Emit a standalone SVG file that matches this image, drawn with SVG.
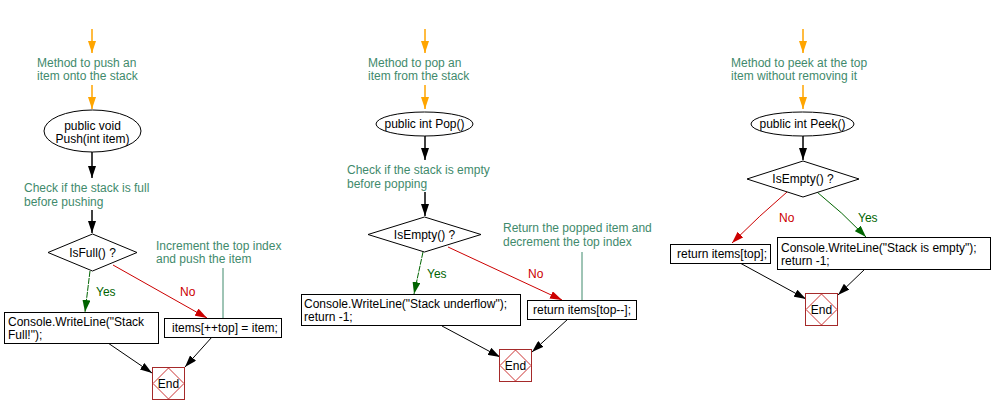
<svg xmlns="http://www.w3.org/2000/svg" width="992" height="414" viewBox="0 0 992 414">
<style>
text{font-family:"Liberation Sans",Arial,sans-serif;font-size:12px;fill:#000}
.note{fill:#3f8a6c}
.yes{fill:#006400}
.no{fill:#cc0000}
.shape{fill:#fff;stroke:#000;stroke-width:1}
.endb{fill:#fff;stroke:#a52a2a;stroke-width:1}
.endd{fill:none;stroke:#cc3333;stroke-width:1}
.c{fill:none;stroke:#000;stroke-width:1}
.ob{fill:none;stroke:#ffa500;stroke-width:1.5}
.bk{fill:none;stroke:#000;stroke-width:1.5}
.gy{fill:none;stroke:#006400;stroke-width:1;stroke-dasharray:6,1}
.rn{fill:none;stroke:#cc0000;stroke-width:1}
.ln{fill:none;stroke:#3f8a6c;stroke-width:1}
</style>
<defs>
<marker id="ao" viewBox="0 0 12 8" refX="12" refY="4" markerWidth="12" markerHeight="8" markerUnits="userSpaceOnUse" orient="auto"><path d="M0,0 L12,4 L0,8 z" fill="#ffa500"/></marker>
<marker id="ab" viewBox="0 0 12 8" refX="12" refY="4" markerWidth="12" markerHeight="8" markerUnits="userSpaceOnUse" orient="auto"><path d="M0,0 L12,4 L0,8 z" fill="#000"/></marker>
<marker id="ag" viewBox="0 0 12 8" refX="12" refY="4" markerWidth="12" markerHeight="8" markerUnits="userSpaceOnUse" orient="auto"><path d="M0,0 L12,4 L0,8 z" fill="#006400"/></marker>
<marker id="ar" viewBox="0 0 12 8" refX="12" refY="4" markerWidth="12" markerHeight="8" markerUnits="userSpaceOnUse" orient="auto"><path d="M0,0 L12,4 L0,8 z" fill="#cc0000"/></marker>
</defs>

<g id="connectors">
<!-- panel 1 -->
<line class="ob" x1="92" y1="29" x2="92" y2="53" marker-end="url(#ao)"/>
<line class="ob" x1="92" y1="85" x2="92" y2="109" marker-end="url(#ao)"/>
<line class="bk" x1="92" y1="152" x2="92" y2="178" marker-end="url(#ab)"/>
<line class="bk" x1="92" y1="210" x2="92" y2="233" marker-end="url(#ab)"/>
<line class="gy" x1="90" y1="271" x2="85" y2="312" marker-end="url(#ag)"/>
<line class="rn" x1="113" y1="265" x2="207" y2="318" marker-end="url(#ar)"/>
<line class="ln" x1="223" y1="268" x2="223" y2="318"/>
<line class="c" x1="108" y1="343" x2="152" y2="373" marker-end="url(#ab)"/>
<line class="c" x1="212" y1="337" x2="185" y2="367" marker-end="url(#ab)"/>
<!-- panel 2 -->
<line class="ob" x1="425" y1="29" x2="425" y2="53" marker-end="url(#ao)"/>
<line class="ob" x1="425" y1="85" x2="425" y2="109" marker-end="url(#ao)"/>
<line class="bk" x1="425" y1="136" x2="425" y2="160" marker-end="url(#ab)"/>
<line class="bk" x1="425" y1="192" x2="425" y2="216" marker-end="url(#ab)"/>
<line class="gy" x1="423" y1="252" x2="414" y2="294" marker-end="url(#ag)"/>
<line class="rn" x1="448" y1="247" x2="562" y2="300" marker-end="url(#ar)"/>
<line class="ln" x1="582" y1="252" x2="582" y2="300"/>
<line class="c" x1="442" y1="326" x2="500" y2="357" marker-end="url(#ab)"/>
<line class="c" x1="568" y1="319" x2="532" y2="352" marker-end="url(#ab)"/>
<!-- panel 3 -->
<line class="ob" x1="803" y1="29" x2="803" y2="53" marker-end="url(#ao)"/>
<line class="ob" x1="803" y1="85" x2="803" y2="109" marker-end="url(#ao)"/>
<line class="bk" x1="803" y1="136" x2="803" y2="160" marker-end="url(#ab)"/>
<path class="rn" d="M787,192 Q760,215 732,243" marker-end="url(#ar)"/>
<path class="gy" d="M817,192 Q842,212 866,237" marker-end="url(#ag)" style="stroke-dasharray:none"/>
<line class="c" x1="740" y1="263" x2="806" y2="299" marker-end="url(#ab)"/>
<line class="c" x1="865" y1="269" x2="838" y2="295" marker-end="url(#ab)"/>
</g>

<!-- Panel 1 nodes -->
<g id="note-push"><text class="note" x="37" y="67">Method to push an</text><text class="note" x="37" y="80">item onto the stack</text></g>
<g id="start-push"><ellipse class="shape" cx="92.5" cy="131" rx="48.5" ry="21"/><text x="92.5" y="130" text-anchor="middle">public void</text><text x="92.5" y="143" text-anchor="middle">Push(int item)</text></g>
<g id="note-full"><text class="note" x="24" y="192">Check if the stack is full</text><text class="note" x="24" y="206">before pushing</text></g>
<g id="dec-full"><polygon class="shape" points="92.5,234 137,252.5 92.5,271 48,252.5"/><text x="92.5" y="257" text-anchor="middle">IsFull() ?</text></g>
<g id="lbl-yes1"><text class="yes" x="96" y="296">Yes</text></g>
<g id="lbl-no1"><text class="no" x="180" y="296">No</text></g>
<g id="box-full"><rect class="shape" x="4.5" y="312.5" width="154" height="31"/><text x="8" y="326">Console.WriteLine("Stack</text><text x="8" y="339">Full!");</text></g>
<g id="note-inc"><text class="note" x="156" y="250">Increment the top index</text><text class="note" x="156" y="263">and push the item</text></g>
<g id="box-push"><rect class="shape" x="164.5" y="318.5" width="117" height="19"/><text x="172" y="332">items[++top] = item;</text></g>
<g id="end-push"><rect class="endb" x="152.5" y="367.5" width="32" height="32"/><polygon class="endd" points="168.5,368 184,383.5 168.5,399 153,383.5"/><text x="168.5" y="388" text-anchor="middle">End</text></g>

<!-- Panel 2 nodes -->
<g id="note-pop"><text class="note" x="368" y="67">Method to pop an</text><text class="note" x="368" y="80">item from the stack</text></g>
<g id="start-pop"><ellipse class="shape" cx="424.5" cy="124" rx="48.5" ry="12"/><text x="424.5" y="128" text-anchor="middle">public int Pop()</text></g>
<g id="note-empty"><text class="note" x="347" y="174">Check if the stack is empty</text><text class="note" x="347" y="188">before popping</text></g>
<g id="dec-empty"><polygon class="shape" points="424.5,217 481,234.5 424.5,252 368,234.5"/><text x="424.5" y="239" text-anchor="middle">IsEmpty() ?</text></g>
<g id="lbl-yes2"><text class="yes" x="427" y="278">Yes</text></g>
<g id="lbl-no2"><text class="no" x="528" y="278">No</text></g>
<g id="box-under"><rect class="shape" x="301.5" y="294.5" width="219" height="31"/><text x="304" y="308">Console.WriteLine("Stack underflow");</text><text x="304" y="321">return -1;</text></g>
<g id="note-ret"><text class="note" x="503" y="232">Return the popped item and</text><text class="note" x="503" y="246">decrement the top index</text></g>
<g id="box-pop"><rect class="shape" x="527.5" y="300.5" width="109" height="19"/><text x="533" y="314">return items[top--];</text></g>
<g id="end-pop"><rect class="endb" x="499.5" y="349.5" width="32" height="32"/><polygon class="endd" points="515.5,350 531,365.5 515.5,381 500,365.5"/><text x="515.5" y="370" text-anchor="middle">End</text></g>

<!-- Panel 3 nodes -->
<g id="note-peek"><text class="note" x="731" y="67">Method to peek at the top</text><text class="note" x="731" y="80">item without removing it</text></g>
<g id="start-peek"><ellipse class="shape" cx="802.5" cy="124" rx="51.5" ry="12"/><text x="802.5" y="128" text-anchor="middle">public int Peek()</text></g>
<g id="dec-peek"><polygon class="shape" points="803,161 859,179 803,197 747,179"/><text x="803" y="183" text-anchor="middle">IsEmpty() ?</text></g>
<g id="lbl-no3"><text class="no" x="779" y="222">No</text></g>
<g id="lbl-yes3"><text class="yes" x="858" y="222">Yes</text></g>
<g id="box-peek"><rect class="shape" x="670.5" y="244.5" width="100" height="19"/><text x="677" y="258">return items[top];</text></g>
<g id="box-empty"><rect class="shape" x="777.5" y="237.5" width="213" height="32"/><text x="781" y="252">Console.WriteLine("Stack is empty");</text><text x="781" y="265">return -1;</text></g>
<g id="end-peek"><rect class="endb" x="805.5" y="293.5" width="32" height="32"/><polygon class="endd" points="821.5,294 837,309.5 821.5,325 806,309.5"/><text x="821.5" y="314" text-anchor="middle">End</text></g>
</svg>
